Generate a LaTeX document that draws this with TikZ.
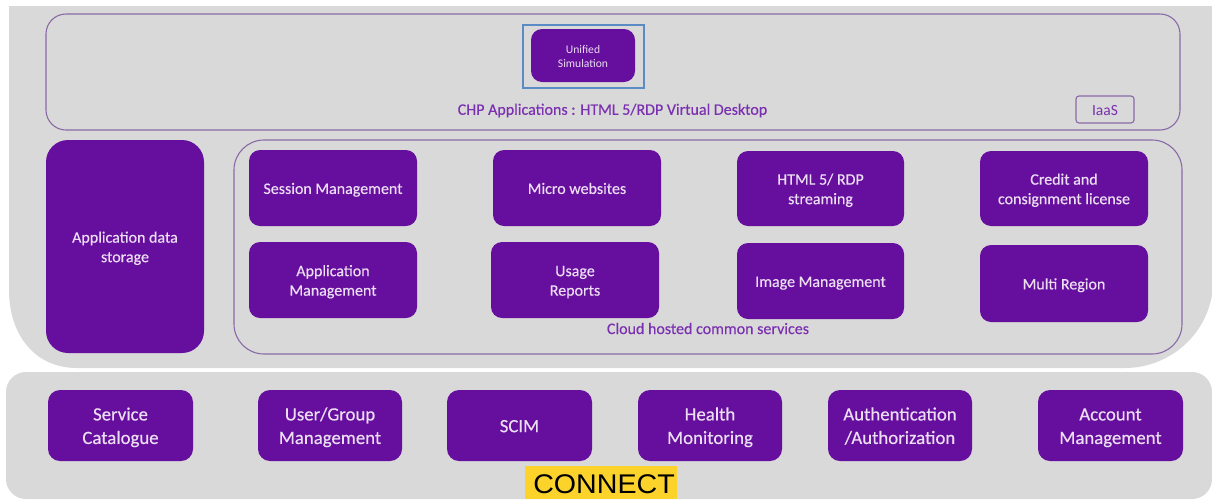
\documentclass[tikz,border=0pt]{standalone}
\usepackage{fontspec}
\setmainfont{Carlito}
\newfontfamily\logofont{Liberation Sans}
\definecolor{panel}{HTML}{D9D9D9}
\definecolor{boxp}{HTML}{660E9E}
\definecolor{linep}{HTML}{8A6AA6}
\definecolor{labelp}{HTML}{7A30B0}
\definecolor{boxtext}{HTML}{EBDDF2}
\definecolor{frameb}{HTML}{5B8BC4}
\definecolor{logoy}{HTML}{FBD32B}
\newcommand{\pxbox}[7]{% name, x0, y0, x1, y1, style, text
  \node[#6,minimum width={(#4-#2)*1pt},minimum height={(#5-#3)*1pt}] (#1) at ({(#2+#4)/2},{(#3+#5)/2}) {\raisebox{-2pt}[\height][\depth]{\begin{tabular}{@{}c@{}}#7\end{tabular}}};}
\tikzset{
  x=1pt,y=-1pt,
  every node/.style={inner sep=0pt,outer sep=0pt},
  svc/.style={fill=boxp,rounded corners=11pt,text=boxtext,font=\fontsize{16}{19.5}\selectfont\addfontfeature{FakeBold=0.4}},
  base/.style={fill=boxp,rounded corners=12pt,text=boxtext,font=\fontsize{18.8}{23.5}\selectfont\addfontfeature{FakeBold=0.4}},
  outlinebox/.style={draw=linep,line width=1.1pt,rounded corners=#1},
  outlinebox/.default=20pt,
  panelfill/.style={fill=panel},
  caption/.style={text=labelp,font=\fontsize{16}{18}\selectfont\addfontfeature{FakeBold=0.3}},
}
\begin{document}
\begin{tikzpicture}
\useasboundingbox (0,0) rectangle (1212,499);
\fill[white] (0,0) rectangle (1212,499);
% panels
\fill[panelfill] (9,6) -- (1212,6) -- (1212,295)
  .. controls (1204,340) and (1165,368) .. (1125,368)
  -- (77,368) .. controls (35,368) and (9,335) .. (9,290) -- cycle;
\fill[panelfill,rounded corners=20pt] (6,372) rectangle (1212,499);
% top band
\pxbox{topband}{46}{14}{1180}{130}{outlinebox=20pt}{}
\pxbox{frame}{523}{25}{644}{88}{draw=frameb,line width=2.4pt}{}
\pxbox{unified}{531}{29}{635}{82}{svc,font=\fontsize{11.6}{14}\selectfont}{Unified\\Simulation}
\node[caption] (chp) at (612.5,110.5) {CHP Applications : HTML 5/RDP Virtual Desktop};
\pxbox{iaas}{1076}{96}{1134}{123}{draw=linep,line width=1.1pt,rounded corners=3pt,text=labelp,font=\fontsize{15.5}{18}\selectfont}{IaaS}
% storage
\pxbox{storage}{46}{140}{204}{353}{svc,rounded corners=22pt}{Application data\\storage}
% cloud
\pxbox{cloud}{234}{140}{1182}{354}{outlinebox=30pt}{}
\pxbox{session}{249}{150}{417}{226}{svc}{Session Management}
\pxbox{micro}{493}{150}{661}{226}{svc}{Micro websites}
\pxbox{html}{737}{151}{904}{226}{svc}{HTML 5/ RDP\\streaming}
\pxbox{credit}{980}{151}{1148}{226}{svc}{Credit and\\consignment license}
\pxbox{appm}{249}{242}{417}{318}{svc}{Application\\Management}
\pxbox{usage}{491}{242}{659}{318}{svc}{Usage\\Reports}
\pxbox{image}{737}{243}{904}{319}{svc}{Image Management}
\pxbox{multi}{980}{245}{1148}{322}{svc}{Multi Region}
\node[caption] (common) at (708,328.5) {Cloud hosted common services};
% bottom row
\pxbox{catalogue}{48}{390}{193}{461}{base}{Service\\Catalogue}
\pxbox{usergroup}{258}{390}{402}{461}{base}{User/Group\\Management}
\pxbox{scim}{447}{390}{592}{461}{base}{SCIM}
\pxbox{health}{638}{390}{782}{461}{base}{Health\\Monitoring}
\pxbox{auth}{828}{390}{972}{461}{base}{Authentication\\/Authorization}
\pxbox{account}{1038}{390}{1183}{461}{base}{Account\\Management}
% logo
\pxbox{logo}{525}{466}{677}{499}{fill=logoy}{}
\node[text=black,anchor=base] (logotext) at (604,493) {\scalebox{1.06}[1]{\logofont\fontsize{27}{30}\selectfont CONNECT}};
\end{tikzpicture}
\end{document}
